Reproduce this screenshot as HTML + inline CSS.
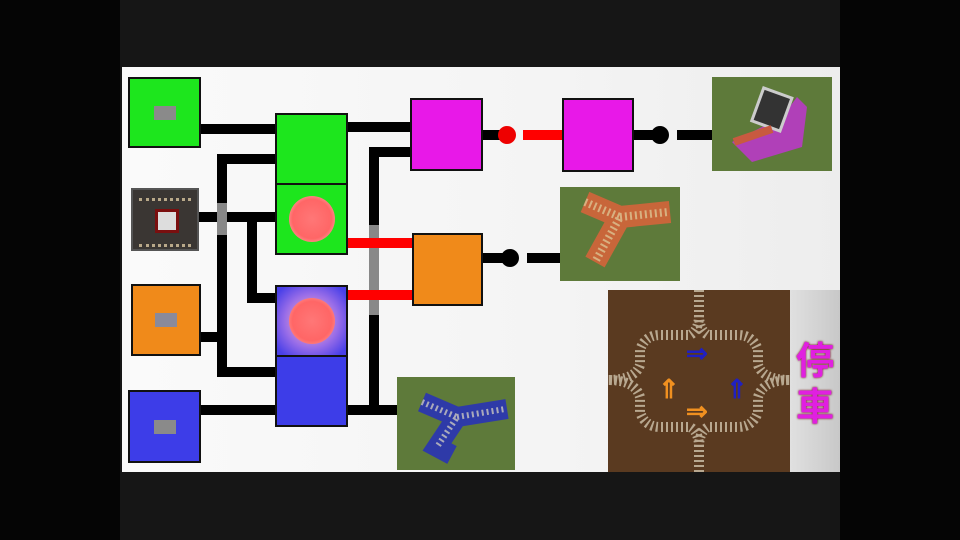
<!DOCTYPE html>
<html><head><meta charset="utf-8"><style>
html,body{margin:0;padding:0;background:#050505;width:960px;height:540px;overflow:hidden}
.c{position:absolute}
.b{position:absolute;border:2px solid #111;box-sizing:border-box}
</style></head><body>
<div class="c" style="left:120px;top:0;width:720px;height:540px;background:#161616"></div>
<div class="c" style="left:122px;top:67px;width:718px;height:405px;background:linear-gradient(90deg,#fafafa,#f4f4f4 60%,#ededed)"></div>
<div class="c" style="left:790px;top:290px;width:50px;height:182px;background:linear-gradient(90deg,#e0e0e0,#c8c8c8)"></div>
<svg class="c" style="left:0;top:0" width="960" height="540">
<g stroke="#000" stroke-width="10" fill="none">
<path d="M201 129H275M348 127H410"/>
<path d="M275 159H222V372H275"/>
<path d="M199 217H252V298H275M252 217H275"/>
<path d="M201 337H222"/>
<path d="M201 410H275M348 410H397"/>
<path d="M410 152H374V410"/>
<path d="M483 135H507M634 135H660M677 135H713"/>
<path d="M483 258H510M527 258H560"/>
</g>
<path d="M222 203V235" stroke="#888" stroke-width="10"/>
<path d="M374 225V315" stroke="#888" stroke-width="10"/>
<path d="M348 243H412M348 295H412M523 135H562" stroke="#f00" stroke-width="10"/>
<circle cx="507" cy="135" r="9" fill="#e00"/>
<circle cx="660" cy="135" r="9" fill="#000"/>
<circle cx="510" cy="258" r="9" fill="#000"/>
</svg>
<div class="b" style="left:128px;top:77px;width:73px;height:71px;background:#1de61d"><div class="c" style="left:24px;top:27px;width:22px;height:14px;background:#8a8a8a"></div></div>
<div class="b" style="left:131px;top:188px;width:68px;height:63px;background:#3a3633;border-color:#555"><div class="c" style="left:6px;top:8px;width:52px;height:43px;border-top:3px dotted #b9a98a;border-bottom:3px dotted #b9a98a"></div><div class="c" style="left:22px;top:19px;width:18px;height:18px;background:#ddd;border:3px solid #7a0f0f"></div></div>
<div class="b" style="left:131px;top:284px;width:70px;height:72px;background:#f08a1a"><div class="c" style="left:22px;top:27px;width:22px;height:14px;background:#8a8a9a"></div></div>
<div class="b" style="left:128px;top:390px;width:73px;height:73px;background:#3d3de8"><div class="c" style="left:24px;top:28px;width:22px;height:14px;background:#8a8a8a"></div></div>
<div class="b" style="left:275px;top:113px;width:73px;height:72px;background:#1de61d"></div>
<div class="b" style="left:275px;top:183px;width:73px;height:72px;background:#1de61d"><div class="c" style="left:12px;top:11px;width:46px;height:46px;border-radius:50%;background:radial-gradient(#f77,#f66 60%,#f99 80%,transparent)"></div></div>
<div class="b" style="left:275px;top:285px;width:73px;height:72px;background:radial-gradient(circle,#e8a0c0 20%,#9a6ee8 55%,#4a40e8 90%)"><div class="c" style="left:12px;top:11px;width:46px;height:46px;border-radius:50%;background:radial-gradient(#f77,#f66 60%,#f88 80%,transparent)"></div></div>
<div class="b" style="left:275px;top:355px;width:73px;height:72px;background:#3d3de8"></div>
<div class="b" style="left:410px;top:98px;width:73px;height:73px;background:#e818e8"></div>
<div class="b" style="left:562px;top:98px;width:72px;height:74px;background:#e818e8"></div>
<div class="b" style="left:412px;top:233px;width:71px;height:73px;background:#f08a1a"></div>
<div class="c" style="left:397px;top:377px;width:118px;height:93px;background:#5e7a3a"></div>
<svg class="c" style="left:397px;top:377px" width="118" height="93"><path d="M25 25L60 40L40 70L55 78M60 40L110 32" stroke="#2e3aa8" stroke-width="20" fill="none"/><path d="M25 25L60 40L40 70M60 40L108 32" stroke="#aab" stroke-width="6" stroke-dasharray="2 3" fill="none"/></svg>
<div class="c" style="left:712px;top:77px;width:120px;height:94px;background:#5e7a3a"></div>
<svg class="c" style="left:712px;top:77px" width="120" height="94"><path d="M20 65L70 40L85 20L95 30L90 70L40 85Z" fill="#b040b8"/><rect x="45" y="15" width="30" height="35" fill="#333" stroke="#ccc" stroke-width="3" transform="rotate(20 60 32)"/><path d="M22 65L60 52" stroke="#c85a40" stroke-width="8"/></svg>
<div class="c" style="left:560px;top:187px;width:120px;height:94px;background:#5e7a3a"></div>
<svg class="c" style="left:560px;top:187px" width="120" height="94"><path d="M25 15L60 30L35 75M60 30L110 25" stroke="#c8663a" stroke-width="22" fill="none"/><path d="M25 15L60 30L35 75M60 30L108 25" stroke="#d8b080" stroke-width="8" stroke-dasharray="2 3" fill="none"/></svg>
<div class="c" style="left:608px;top:290px;width:182px;height:182px;background:#5a3a20"></div>
<svg class="c" style="left:608px;top:290px" width="182" height="182" fill="none">
<g stroke="#b8a890" stroke-width="10" stroke-dasharray="2 3">
<path d="M91 0V25Q91 40 100 45H130Q145 45 150 60V75Q155 90 182 90"/>
<path d="M91 182V157Q91 142 82 137H52Q37 137 32 122V107Q27 90 0 90"/>
<path d="M91 25Q91 40 82 45H52Q37 45 32 60V75Q27 90 0 90"/>
<path d="M91 157Q91 142 100 137H130Q145 137 150 122V107Q155 90 182 90"/>
</g>
<g font-family="Liberation Sans,sans-serif" font-size="26" font-weight="bold">
<text x="78" y="72" fill="#2020c0">⇒</text>
<text x="118" y="108" fill="#2020c0">⇑</text>
<text x="50" y="108" fill="#f09020">⇑</text>
<text x="78" y="130" fill="#f09020">⇒</text>
</g>
</svg>
<div class="c" style="left:796px;top:335px;font:bold 38px 'Noto Sans CJK JP',sans-serif;color:#e020e0;line-height:46px;width:44px;text-shadow:0 0 2px #600">停<br>車</div>
</body></html>
